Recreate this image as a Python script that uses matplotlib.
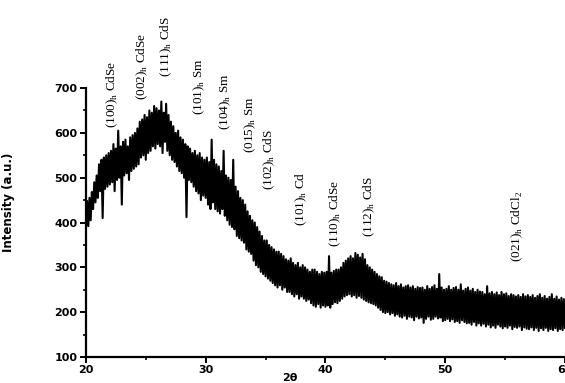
#!/usr/bin/env python3
"""
XRD pattern of the deposited film with the indexed reflections
"""

import matplotlib
matplotlib.use('Agg')
import matplotlib.pyplot as plt
import numpy as np
from matplotlib.ticker import MultipleLocator

# 2-theta scan, 20..60 deg in 0.1 deg steps
two_theta_start = 20.0
two_theta_step = 0.1
intensity = [
    385, 448, 392, 455, 405, 468, 430, 490, 445, 505,   # 20
    455, 530, 470, 540, 410, 545, 475, 550, 480, 555,   # 21
    485, 560, 490, 575, 470, 565, 495, 605, 500, 570,   # 22
    440, 580, 505, 585, 510, 570, 495, 590, 515, 595,   # 23
    520, 600, 525, 610, 530, 625, 545, 630, 550, 640,   # 24
    540, 635, 555, 650, 560, 645, 570, 660, 565, 655,   # 25
    575, 650, 570, 670, 555, 645, 580, 665, 560, 640,   # 26
    550, 625, 540, 615, 535, 600, 525, 605, 515, 590,   # 27
    510, 585, 500, 575, 412, 570, 495, 565, 490, 555,   # 28
    480, 560, 470, 550, 465, 555, 450, 545, 460, 540,   # 29
    455, 545, 440, 535, 430, 585, 445, 540, 430, 530,   # 30
    425, 525, 420, 515, 430, 560, 415, 505, 405, 500,   # 31
    395, 495, 390, 540, 385, 480, 370, 470, 365, 455,   # 32
    360, 450, 355, 440, 340, 425, 335, 415, 330, 405,   # 33
    315, 400, 305, 390, 300, 380, 290, 370, 285, 360,   # 34
    280, 360, 275, 350, 270, 345, 265, 340, 260, 335,   # 35
    255, 335, 260, 330, 250, 325, 255, 318, 245, 315,   # 36
    245, 320, 240, 310, 235, 305, 240, 310, 230, 300,   # 37
    235, 305, 230, 300, 225, 295, 228, 290, 220, 295,   # 38
    215, 295, 212, 290, 218, 285, 210, 290, 215, 288,   # 39
    212, 290, 215, 325, 210, 288, 218, 292, 222, 295,   # 40
    220, 295, 225, 300, 230, 310, 235, 315, 238, 320,   # 41
    240, 325, 235, 320, 238, 332, 232, 328, 236, 322,   # 42
    232, 330, 228, 318, 225, 305, 222, 300, 220, 295,   # 43
    218, 290, 215, 285, 210, 280, 205, 278, 200, 270,   # 44
    198, 268, 200, 265, 195, 262, 198, 260, 192, 265,   # 45
    195, 258, 190, 262, 188, 255, 192, 258, 185, 260,   # 46
    190, 255, 188, 258, 182, 252, 190, 256, 186, 254,   # 47
    188, 255, 176, 250, 185, 258, 190, 252, 183, 256,   # 48
    185, 260, 190, 252, 186, 285, 188, 255, 180, 250,   # 49
    182, 252, 185, 258, 180, 250, 184, 254, 178, 256,   # 50
    180, 250, 176, 262, 182, 248, 178, 252, 175, 255,   # 51
    176, 248, 172, 252, 178, 245, 170, 250, 175, 246,   # 52
    170, 245, 174, 240, 168, 258, 172, 242, 166, 245,   # 53
    170, 240, 165, 244, 172, 238, 168, 245, 164, 240,   # 54
    168, 242, 165, 236, 170, 240, 162, 238, 167, 235,   # 55
    165, 238, 168, 234, 160, 240, 166, 235, 163, 238,   # 56
    162, 234, 166, 238, 160, 232, 165, 236, 158, 240,   # 57
    164, 232, 160, 236, 165, 230, 158, 234, 162, 240,   # 58
    160, 230, 164, 235, 158, 228, 162, 232, 160, 229,   # 59
    165,                                                # 60
]

# indexed reflections: label, 2-theta, intensity level under the label
peak_labels = [
    r'(100)$_\mathrm{h}$ CdSe',
    r'(002)$_\mathrm{h}$ CdSe',
    r'(111)$_\mathrm{h}$ CdS',
    r'(101)$_\mathrm{h}$ Sm',
    r'(104)$_\mathrm{h}$ Sm',
    r'(015)$_\mathrm{h}$ Sm',
    r'(102)$_\mathrm{h}$ CdS',
    r'(101)$_\mathrm{h}$ Cd',
    r'(110)$_\mathrm{h}$ CdSe',
    r'(112)$_\mathrm{h}$ CdS',
    r'(021)$_\mathrm{h}$ CdCl$_\mathrm{2}$',
]
peak_pos = [22.2, 24.75, 26.7, 29.5, 31.6, 33.75, 35.3, 38.0, 40.8, 43.7, 56.0]
peak_level = [611, 674, 725, 640, 607, 555, 473, 392, 345, 368, 312]

x_ticks = [20, 30, 40, 50, 60]
y_ticks = [100, 200, 300, 400, 500, 600, 700]

plt.rcParams['mathtext.fontset'] = 'custom'
plt.rcParams['mathtext.rm'] = 'Liberation Serif'

two_theta = two_theta_start + two_theta_step * np.arange(len(intensity))

fig = plt.figure(figsize=(5.65, 3.83), dpi=100)
ax = fig.add_axes([0.152, 0.068, 0.848, 0.702])

ax.plot(two_theta, intensity, color='black', linewidth=1.5)

ax.set_xlim(20, 60)
ax.set_ylim(100, 700)
ax.set_xticks(x_ticks)
ax.set_yticks(y_ticks)
ax.xaxis.set_minor_locator(MultipleLocator(5))
ax.yaxis.set_minor_locator(MultipleLocator(50))

# origin-like frame: left and bottom axes only
ax.spines['top'].set_visible(False)
ax.spines['right'].set_visible(False)
for side in ['left', 'bottom']:
    ax.spines[side].set_linewidth(1.6)
ax.tick_params(which='major', direction='out', length=4, width=1.4,
               labelsize=8, pad=2)
ax.tick_params(which='minor', direction='out', length=2.5, width=1.2)
for lab in ax.get_xticklabels() + ax.get_yticklabels():
    lab.set_fontweight('bold')

ax.set_ylabel('Intensity (a.u.)', fontsize=8.5, fontweight='bold')
ax.yaxis.set_label_coords(-0.148, 0.576)
ax.set_xlabel('2θ', fontsize=8, fontweight='bold')
ax.xaxis.set_label_coords(0.426, -0.058)

# reflection labels, written vertically above the pattern
for label, pos, level in zip(peak_labels, peak_pos, peak_level):
    ax.text(pos, level, label, rotation=90, ha='center', va='bottom',
            fontsize=9.5, family='Liberation Serif', clip_on=False)

plt.savefig('out.png', dpi=100)
plt.close()
